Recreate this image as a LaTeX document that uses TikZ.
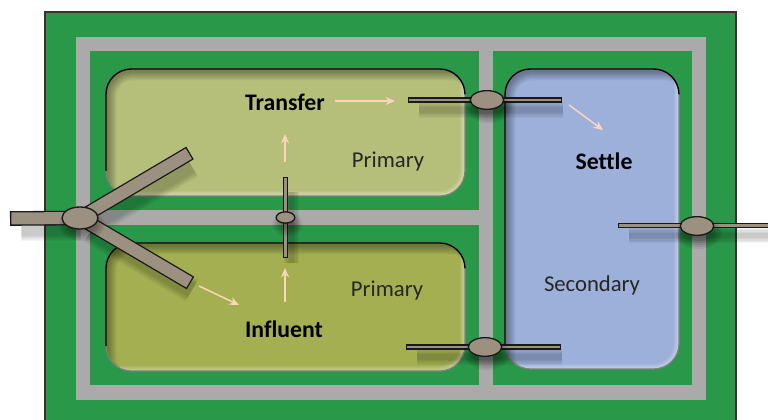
\documentclass[tikz,border=0pt]{standalone}
\usepackage{fontspec}
\setmainfont{Carlito}[Ligatures={NoCommon,TeX}]
\usepackage{xcolor}
\usetikzlibrary{
    arrows.meta,
    calc,
    shapes.geometric,
    positioning
}
\definecolor{site}{RGB}{41,152,73}
\definecolor{road}{RGB}{169,170,169}
\definecolor{primaryA}{RGB}{181,191,122}
\definecolor{primaryB}{RGB}{163,175,81}
\definecolor{secondary}{RGB}{156,176,218}
\definecolor{pipe}{RGB}{156,145,128}
\definecolor{flowc}{RGB}{252,214,186}
\tikzset{
    flow/.style={-{Stealth[length=7pt,width=6pt]}, flowc, line width=1.1pt},
    valve/.style={ellipse, draw=black!90, line width=1pt, fill=pipe, inner sep=0pt},
    tag/.style={font=\fontsize{17}{20}\selectfont, text=black!85},
    tagb/.style={font=\fontsize{17.8}{20}\selectfont\bfseries, text=black}
}
% tank: x1 y1 x2 y2 colour
\newcommand{\tank}[5]{
    \fill[#5, rounded corners=19pt] (#1,#2) rectangle (#3,#4);
    \begin{scope}
        \clip[rounded corners=19pt] (#1,#2) rectangle (#3,#4);
        \foreach \w in {2,4,...,14} {
            \draw[black, opacity=0.05, line width=\w pt, rounded corners=19pt] (#1+1,#2+2) rectangle (#3+12,#4+12);
            \draw[white, opacity=0.07, line width=\w pt*0.55, rounded corners=19pt] (#1-12,#2-12) rectangle (#3,#4);
        }
    \end{scope}
    \draw[black!50, line width=0.9pt, rounded corners=19pt] (#1,#2) rectangle (#3,#4);
    \draw[black, line width=1pt, rounded corners=19pt] (#1,#4-25) -- (#1,#2) -- (#3,#2) -- (#3,#2+25);
}
% pipe: from, to, width in pt
\newcommand{\pipeline}[3]{
    \foreach \w in {0,2,...,8} {
        \draw[black, opacity=0.045, line width=#3pt+\w pt, shorten <=4pt, shorten >=4pt] ($(#1)+(6,10)$) -- ($(#2)+(6,10)$);
    }
    \draw[black!90, line width=#3pt] (#1) -- (#2);
    \draw[pipe, line width=#3pt-2pt, shorten >=1pt, shorten <=1pt] (#1) -- (#2);
}
% valve shadow: centre, half axes
\newcommand{\valveshadow}[3]{
    \foreach \w in {0,2,...,8} {
        \fill[black, opacity=0.07] ($(#1)+(2,7)$) ellipse ({#2+\w} and {#3+\w});
    }
}
\begin{document}
\begin{tikzpicture}[x=0.75pt, y=-0.75pt]
    \useasboundingbox (0,0) rectangle (768,420);
    \fill[white] (0,0) rectangle (768,420);

    % Site
    \draw[black!80, fill=site, line width=0.8pt] (45,12) rectangle (736,425);

    % Roads
    \fill[road] (76,37) rectangle (706,400);
    \fill[site] (90,51) rectangle (479,210);
    \fill[site] (90,225) rectangle (479,385);
    \fill[site] (493,51) rectangle (692,385);

    % Tanks
    \tank{106}{69}{465}{196}{primaryA}
    \tank{106}{243}{465}{371}{primaryB}
    \tank{505}{69}{679}{369}{secondary}

    % Coordinates for the pipes
    \coordinate (inlet) at (80,218);
    \coordinate (feedW) at (10,218.5);
    \coordinate (armN) at (190,153);
    \coordinate (armS) at (190.5,283);
    \coordinate (crossN) at (285.5,177);
    \coordinate (crossS) at (285.5,258);
    \coordinate (topW) at (408,100);
    \coordinate (topE) at (562,100);
    \coordinate (lowW) at (406,347);
    \coordinate (lowE) at (561,347);
    \coordinate (outW) at (618,225.5);
    \coordinate (outE) at (770,225.5);

    % Pipes
    \pipeline{crossN}{crossS}{3.8}
    \pipeline{topW}{topE}{3.8}
    \pipeline{lowW}{lowE}{3.8}
    \pipeline{outW}{outE}{3.8}
    \pipeline{feedW}{inlet}{11}
    \pipeline{inlet}{armN}{11}
    \pipeline{inlet}{armS}{11}

    % Valves
    \valveshadow{285.5,217.5}{7}{4}
    \valveshadow{487,100}{15}{8}
    \valveshadow{485,347}{15}{8}
    \valveshadow{697,226}{15}{8}
    \valveshadow{80,218}{15}{8}
    \node[valve, minimum width=27pt, minimum height=16.5pt] (valveIn) at (inlet) {};
    \node[valve, minimum width=14pt, minimum height=8.5pt] (valveCross) at (285.5,217.5) {};
    \node[valve, minimum width=25pt, minimum height=14pt] (valveTop) at (487,100) {};
    \node[valve, minimum width=25pt, minimum height=14pt] (valveLow) at (485,347) {};
    \node[valve, minimum width=25pt, minimum height=14pt] (valveOut) at (697,226) {};

    % Labels
    \node[tagb] (transfer) at (285,102) {Transfer};
    \node[tagb] (influent) at (284,329) {Influent};
    \node[tagb] (settle) at (604,161) {Settle};
    \node[tag] (primaryTop) at (388,162) {Primary};
    \node[tag] (primaryLow) at (387,291) {Primary};
    \node[tag] (secondaryTag) at (592,285) {Secondary};

    % Flow arrows
    \coordinate (f1a) at (199,286);
    \coordinate (f1b) at (239,305);
    \coordinate (f2a) at (285,302);
    \coordinate (f2b) at (285,268);
    \coordinate (f3a) at (285,162);
    \coordinate (f3b) at (285,134);
    \coordinate (f4a) at (335,101);
    \coordinate (f4b) at (395,101);
    \coordinate (f5a) at (569,105);
    \coordinate (f5b) at (603,130);
    \draw[flow] (f1a) -- (f1b);
    \draw[flow] (f2a) -- (f2b);
    \draw[flow] (f3a) -- (f3b);
    \draw[flow] (f4a) -- (f4b);
    \draw[flow] (f5a) -- (f5b);
\end{tikzpicture}
\end{document}
